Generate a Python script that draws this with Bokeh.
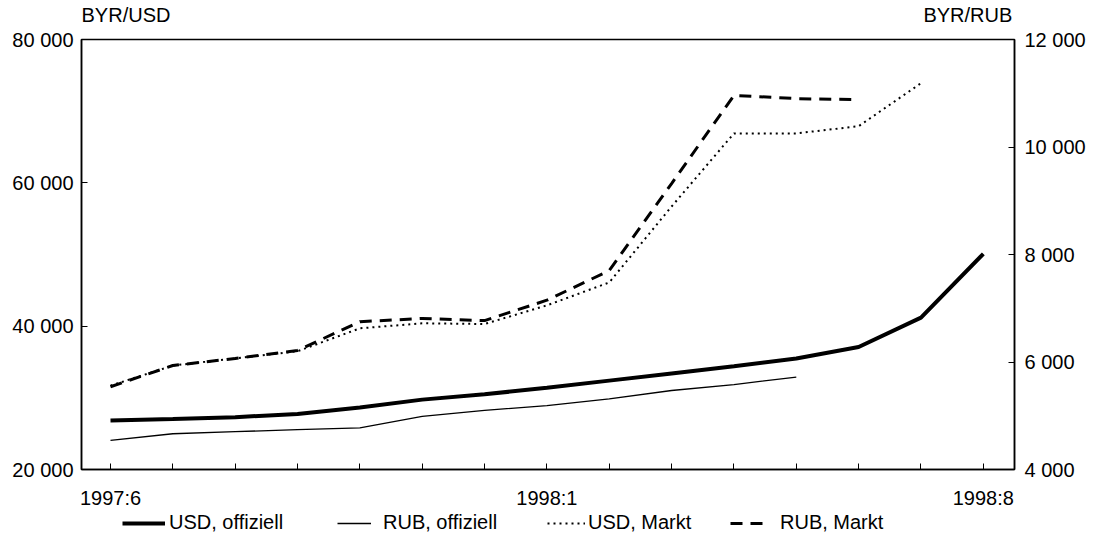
from bokeh.plotting import figure
from bokeh.models import Range1d, LinearAxis, FixedTicker, Legend, LegendItem
from bokeh.layouts import column
from bokeh.embed import file_html
from bokeh.resources import INLINE

# ---- data ----
months = ["1997:6", "1997:7", "1997:8", "1997:9", "1997:10", "1997:11", "1997:12",
          "1998:1", "1998:2", "1998:3", "1998:4", "1998:5", "1998:6", "1998:7", "1998:8"]
shown_labels = ["1997:6", "1998:1", "1998:8"]

usd_offiziell = [26850, 27050, 27300, 27750, 28650, 29750, 30500, 31400, 32400,
                 33400, 34400, 35500, 37100, 41200, 50100]          # BYR/USD, left axis
rub_offiziell = [4540, 4665, 4705, 4740, 4775, 4990, 5100, 5190, 5315,
                 5470, 5580, 5720]                                   # BYR/RUB, right axis
usd_markt = [31700, 34500, 35500, 36500, 39700, 40400, 40300, 42900, 46100,
             56700, 66900, 66900, 67900, 73900]                      # BYR/USD, left axis
rub_markt = [5540, 5935, 6065, 6215, 6750, 6810, 6770, 7150, 7700,
             9320, 10960, 10900, 10880]                              # BYR/RUB, right axis

left_ticks = [20000, 40000, 60000, 80000]
right_ticks = [4000, 6000, 8000, 10000, 12000]
unit_labels = ["BYR/USD", "BYR/RUB"]
series_names = ["USD, offiziell", "RUB, offiziell", "USD, Markt", "RUB, Markt"]

FONT = "Liberation Sans"
FS = "20px"
X0, X1 = -0.465, 14.5

def fmt(v):
    return f"{v:,}".replace(",", " ")

x = list(range(len(months)))

# line styles (width, dash) per series
styles = [dict(line_width=4), dict(line_width=1.3),
          dict(line_width=2, line_dash="2 4"), dict(line_width=3, line_dash="12 8")]
series = [usd_offiziell, rub_offiziell, usd_markt, rub_markt]
yr_names = ["default", "rub", "default", "rub"]

# ---------------- main chart ----------------
p = figure(width=1094, height=511,
           min_border_left=81, min_border_right=80, min_border_top=39, min_border_bottom=42,
           x_range=Range1d(X0, X1), y_range=Range1d(20000, 80000),
           output_backend="svg", toolbar_location=None)
p.extra_y_ranges = {"rub": Range1d(4000, 12000)}

p.xgrid.visible = False
p.ygrid.visible = False
p.outline_line_color = "black"
p.outline_line_width = 1.5
p.background_fill_color = "white"
p.border_fill_color = "white"

xa = p.xaxis[0]
xa.ticker = FixedTicker(ticks=x)
xa.major_label_overrides = {i: (m if m in shown_labels else "") for i, m in enumerate(months)}

ya = p.yaxis[0]
ya.ticker = FixedTicker(ticks=left_ticks)
ya.major_label_overrides = {v: fmt(v) for v in left_ticks}

ra = LinearAxis(y_range_name="rub", ticker=FixedTicker(ticks=right_ticks),
                major_label_overrides={v: fmt(v) for v in right_ticks})
p.add_layout(ra, "right")

for ax in [xa, ya, ra]:
    ax.axis_label = None
    ax.axis_line_color = "black"
    ax.axis_line_width = 1.5
    ax.major_tick_in = 6
    ax.major_tick_out = 0
    ax.major_tick_line_color = "black"
    ax.major_tick_line_width = 1
    ax.minor_tick_line_color = None
    ax.major_label_text_font = FONT
    ax.major_label_text_font_size = FS
    ax.major_label_text_color = "black"
xa.major_label_standoff = 17
ya.major_label_standoff = 8
ra.major_label_standoff = 10

# unit labels above the frame, as a bare top axis
half_w = 44.5 / 62.36
unit_pos = [X0 + half_w, X1 - 0.035 - half_w]
ta = LinearAxis(ticker=FixedTicker(ticks=unit_pos), axis_label=None,
                major_label_overrides={unit_pos[0]: unit_labels[0], unit_pos[1]: unit_labels[1]},
                axis_line_color=None, major_tick_line_color=None, minor_tick_line_color=None,
                major_label_standoff=8, major_label_text_font=FONT,
                major_label_text_font_size=FS, major_label_text_color="black")
p.add_layout(ta, "above")

for s, st, yn in zip(series, styles, yr_names):
    p.line(x[:len(s)], s, line_color="black", y_range_name=yn, **st)

# ---------------- legend strip below ----------------
lf = figure(width=1094, height=28, x_range=Range1d(X0, X1), y_range=Range1d(0, 1),
            min_border_left=0, min_border_right=0, min_border_top=0, min_border_bottom=0,
            x_axis_location=None, y_axis_location=None,
            output_backend="svg", toolbar_location=None)
lf.grid.visible = False
lf.outline_line_color = None
lf.background_fill_color = "white"
lf.border_fill_color = "white"

# legend key renderers (their data lie outside this strip's y range, so only the keys show)
leg_x = [41, 256, 466, 649]          # offsets from the (column-aligned) frame's left edge
glyph_w = [43, 34, 38, 36]
standoff = [4, 12, 3, 14]
for s, st, nm, lx, gw, so in zip(series, styles, series_names, leg_x, glyph_w, standoff):
    r = lf.line(x[:len(s)], s, line_color="black", **st)
    lg = Legend(items=[LegendItem(label=nm, renderers=[r])], location=(lx, 5),
                orientation="horizontal", border_line_color=None,
                background_fill_alpha=0, padding=0, margin=0, spacing=0,
                glyph_width=gw, glyph_height=20, label_height=20, label_standoff=so,
                label_text_font=FONT, label_text_font_size=FS, label_text_color="black")
    lf.add_layout(lg, "center")

layout = column(p, lf, spacing=0)
open("out.html", "w").write(file_html(layout, INLINE))
